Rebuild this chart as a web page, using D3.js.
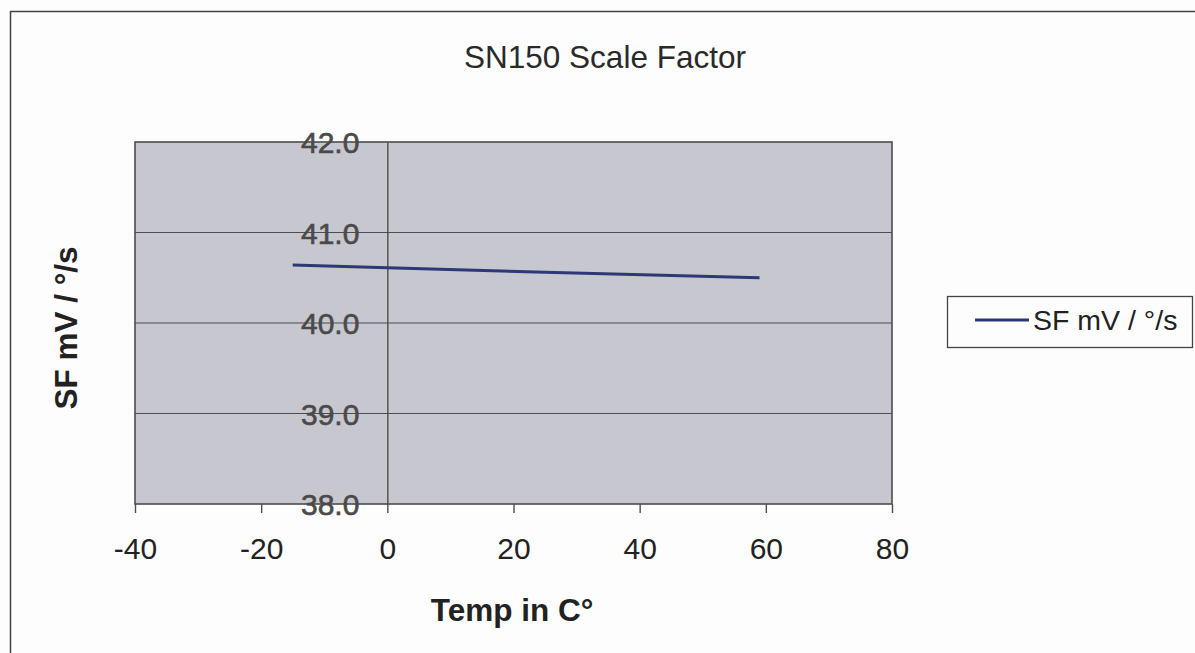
<!DOCTYPE html>
<html>
<head>
<meta charset="utf-8">
<script src="https://cdn.jsdelivr.net/npm/d3@7"></script>
<style>
  html, body { margin: 0; padding: 0; background: #fdfdfd; }
  svg { display: block; }
  text { font-family: "Liberation Sans", Arial, sans-serif; }
</style>
</head>
<body>
<svg id="chart" width="1195" height="653"></svg>
<script>
// ---- data ----
const temps = [-15, 0, 25, 59];
const sfValues = [40.64, 40.61, 40.56, 40.50];
const xTicks = [-40, -20, 0, 20, 40, 60, 80];
const yTicks = [38, 39, 40, 41, 42];
const chartTitle = "SN150 Scale Factor";
const xTitle = "Temp in C°";
const yTitle = "SF mV / °/s";
const seriesName = "SF mV / °/s";

// ---- layout ----
const svg = d3.select("#chart");
const plot = { left: 135, right: 892, top: 142, bottom: 504 };

const x = d3.scaleLinear().domain([-40, 80]).range([plot.left, plot.right]);
const y = d3.scaleLinear().domain([38, 42]).range([plot.bottom, plot.top]);

// outer chart border (extends beyond the viewport at right/bottom)
svg.append("rect")
  .attr("x", 10.5).attr("y", 11.5)
  .attr("width", 1200).attr("height", 660)
  .attr("fill", "#fdfdfd").attr("stroke", "#444").attr("stroke-width", 1.5);

// title
svg.append("text")
  .attr("x", 605).attr("y", 68)
  .attr("text-anchor", "middle")
  .attr("font-size", 31.5).attr("fill", "#2a2a2a")
  .text(chartTitle);

// plot area
svg.append("rect")
  .attr("x", plot.left).attr("y", plot.top)
  .attr("width", plot.right - plot.left).attr("height", plot.bottom - plot.top)
  .attr("fill", "#c7c7cf");

// horizontal gridlines
svg.append("g").selectAll("line")
  .data(yTicks.filter(d => d !== 38 && d !== 42))
  .join("line")
  .attr("x1", plot.left).attr("x2", plot.right)
  .attr("y1", d => y(d)).attr("y2", d => y(d))
  .attr("stroke", "#4d4d4d").attr("stroke-width", 1.2);

// plot border
svg.append("rect")
  .attr("x", plot.left).attr("y", plot.top)
  .attr("width", plot.right - plot.left).attr("height", plot.bottom - plot.top)
  .attr("fill", "none").attr("stroke", "#4d4d4d").attr("stroke-width", 1.6);

// y axis located at x = 0
const yAxis = d3.axisLeft(y).tickValues(yTicks).tickFormat(d3.format(".1f")).tickSize(0).tickPadding(28);
const yG = svg.append("g").attr("transform", `translate(${x(0)},0)`).call(yAxis);
yG.select(".domain").attr("stroke", "#4d4d4d").attr("stroke-width", 1.4);
yG.selectAll("text")
  .attr("font-size", 30).attr("fill", "#4a4a4a")
  .attr("stroke", "#4a4a4a").attr("stroke-width", 0.6)
  .attr("font-family", "'Liberation Sans', Arial, sans-serif")
  .attr("dy", "0.36em");

// x axis at bottom
const xAxis = d3.axisBottom(x).tickValues(xTicks).tickFormat(d3.format("d")).tickSize(9).tickPadding(25);
const xG = svg.append("g").attr("transform", `translate(0,${plot.bottom})`).call(xAxis);
xG.select(".domain").remove();
xG.selectAll("line").attr("stroke", "#4d4d4d").attr("stroke-width", 1.4);
xG.selectAll("text")
  .attr("font-size", 30).attr("fill", "#222")
  .attr("font-family", "'Liberation Sans', Arial, sans-serif")
  .text(d => d < 0 ? "-" + Math.abs(d) : d);

// series line
const pts = temps.map((t, i) => [t, sfValues[i]]);
svg.append("path")
  .datum(pts)
  .attr("d", d3.line().x(d => x(d[0])).y(d => y(d[1])))
  .attr("fill", "none").attr("stroke", "#2c3878").attr("stroke-width", 3);

// axis titles
svg.append("text")
  .attr("x", 512).attr("y", 621)
  .attr("text-anchor", "middle")
  .attr("font-size", 31.5).attr("font-weight", "bold").attr("fill", "#222")
  .text(xTitle);

svg.append("text")
  .attr("transform", "translate(77,328) rotate(-90)")
  .attr("text-anchor", "middle")
  .attr("font-size", 31.5).attr("font-weight", "bold").attr("fill", "#222")
  .text(yTitle);

// legend
const lg = svg.append("g");
lg.append("rect")
  .attr("x", 947.5).attr("y", 296.5).attr("width", 245).attr("height", 51)
  .attr("fill", "#fdfdfd").attr("stroke", "#444").attr("stroke-width", 1.3);
lg.append("line")
  .attr("x1", 975).attr("x2", 1029).attr("y1", 320).attr("y2", 320)
  .attr("stroke", "#2c3878").attr("stroke-width", 3);
lg.append("text")
  .attr("x", 1033).attr("y", 330)
  .attr("font-size", 28.5).attr("fill", "#222")
  .text(seriesName);
</script>
</body>
</html>
